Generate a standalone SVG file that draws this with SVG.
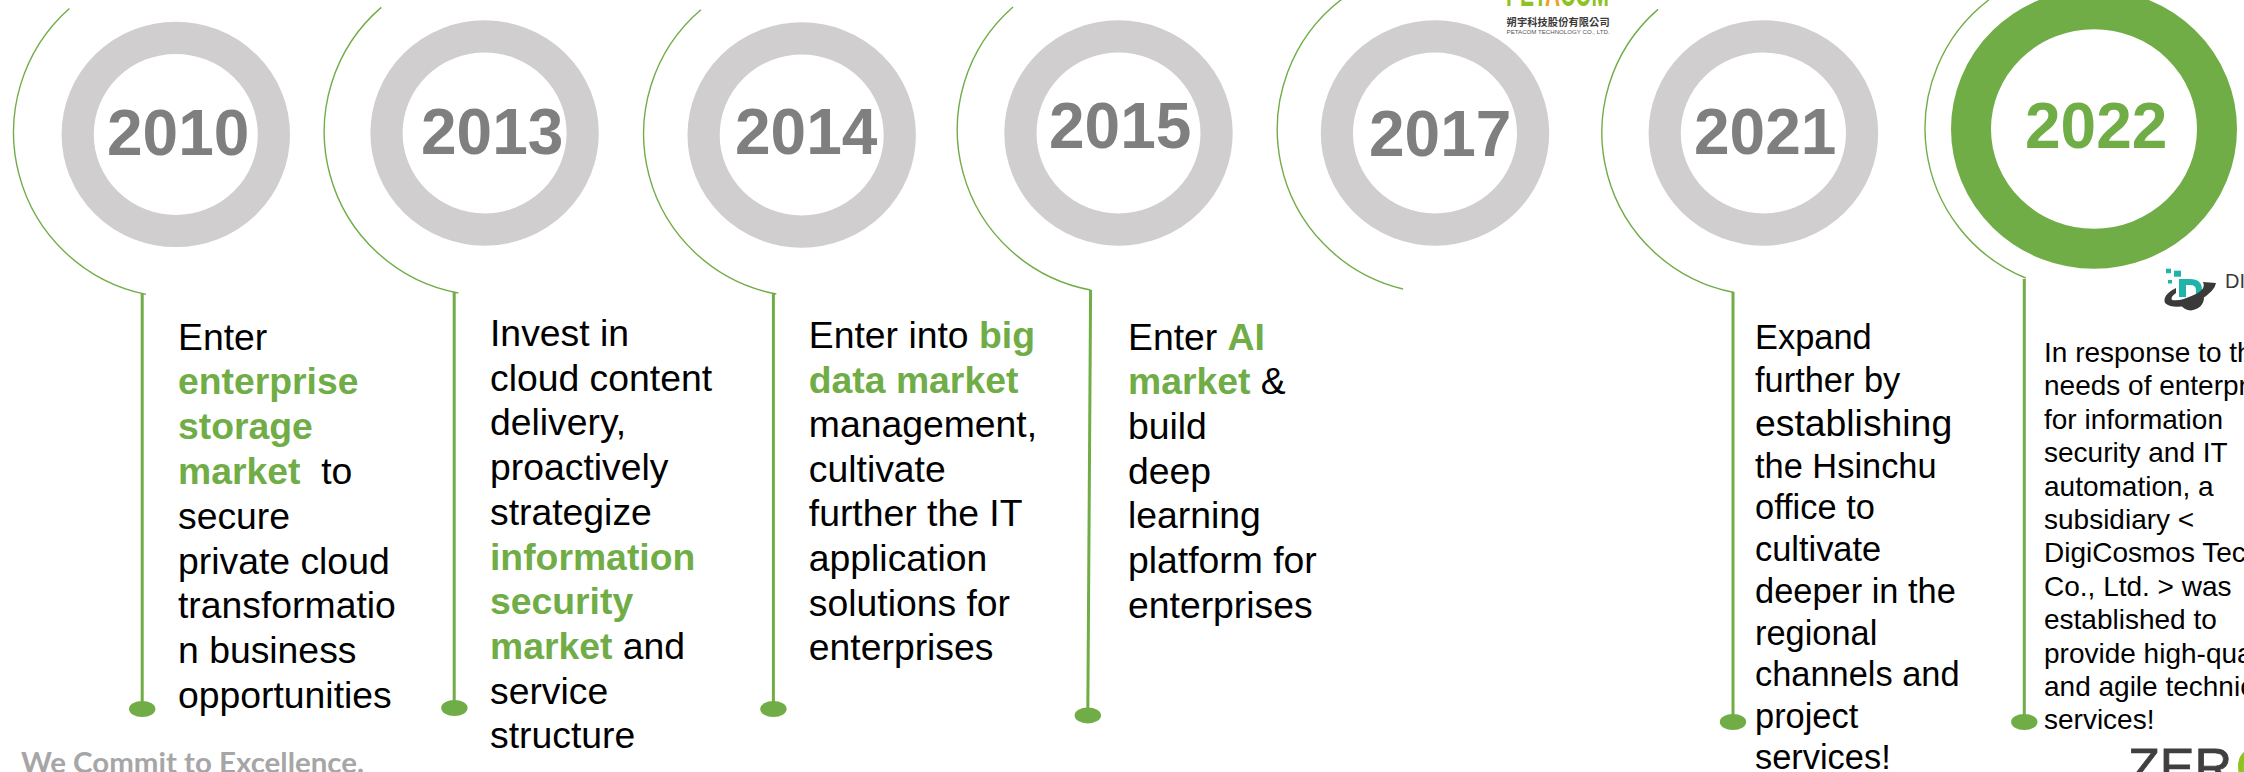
<svg xmlns="http://www.w3.org/2000/svg" width="2244" height="772" viewBox="0 0 2244 772">
<style>
text{font-family:"Liberation Sans",Arial,sans-serif}
.ring{fill:none;stroke:#d0cece;stroke-width:32.2}
.yr{font-size:64px;font-weight:700;fill:#7f7f7f}
.t{font-size:37.33px;fill:#000}
.m{font-size:34.4px;fill:#000}
.s{font-size:28px;fill:#000}
.g{font-weight:700;fill:#70ad47}
.arc{fill:none;stroke:#70ad47;stroke-width:1.4}
.stem{fill:none;stroke:#70ad47;stroke-width:3}
.dot{fill:#70ad47}
</style>
<rect width="2244" height="772" fill="#fff"/>
<g id="connectors">
<path class="arc" d="M69.4 8.4A165.400 165.400 0 0 0 146 294.4"/>
<path class="arc" d="M381.3 7.4A164 164 0 0 0 458.3 293"/>
<path class="arc" d="M700.9 9.8A163 163 0 0 0 776.3 294"/>
<path class="arc" d="M1013 7A163 163 0 0 0 1090.6 290"/>
<path class="arc" d="M1342 -1A164 164 0 0 0 1403 289"/>
<path class="arc" d="M1658 9.4A163 163 0 0 0 1734 292.5"/>
<path class="arc" d="M1988.7 0A161.4 161.4 0 0 0 2025.7 278"/>
<path class="stem" d="M142.2 293V709"/>
<path class="stem" d="M454.2 292V708"/>
<path class="stem" d="M773.4 293V709"/>
<path class="stem" d="M1090.6 290L1087.8 715"/>
<path class="stem" d="M1733 292V722"/>
<path class="stem" d="M2024.3 279V722"/>
<ellipse class="dot" cx="142.2" cy="709" rx="13.2" ry="8"/>
<ellipse class="dot" cx="454.4" cy="708" rx="13.2" ry="8"/>
<ellipse class="dot" cx="773.4" cy="709" rx="13.2" ry="8"/>
<ellipse class="dot" cx="1087.8" cy="715.4" rx="13.2" ry="8"/>
<ellipse class="dot" cx="1733" cy="722" rx="13.2" ry="8"/>
<ellipse class="dot" cx="2024.3" cy="722" rx="13.2" ry="8"/>
</g>
<g id="node-2010">
<ellipse class="ring" cx="175.8" cy="134.4" rx="98.1" ry="96.6"/>
<text class="yr" x="107" y="154.5">2010</text>
<text class="t" xml:space="preserve"><tspan x="178" y="349.6">Enter</tspan><tspan x="178" y="394.4" class="g">enterprise</tspan><tspan x="178" y="439.2" class="g">storage</tspan><tspan x="178" y="484" class="g">market</tspan><tspan>  to</tspan><tspan x="178" y="528.8">secure</tspan><tspan x="178" y="573.6">private cloud</tspan><tspan x="178" y="618.4">transformatio</tspan><tspan x="178" y="663.2">n business</tspan><tspan x="178" y="708">opportunities</tspan></text>
</g>
<g id="node-2013">
<ellipse class="ring" cx="484.6" cy="133" rx="98.1" ry="96.6"/>
<text class="yr" x="421" y="153.6">2013</text>
<text class="t"><tspan x="490" y="346">Invest in</tspan><tspan x="490" y="390.7">cloud content</tspan><tspan x="490" y="435.4">delivery,</tspan><tspan x="490" y="480.1">proactively</tspan><tspan x="490" y="524.8">strategize</tspan><tspan x="490" y="569.5" class="g">information</tspan><tspan x="490" y="614.2" class="g">security</tspan><tspan x="490" y="658.9" class="g">market</tspan><tspan> and</tspan><tspan x="490" y="703.6">service</tspan><tspan x="490" y="748.3">structure</tspan></text>
</g>
<g id="node-2014">
<ellipse class="ring" cx="801.7" cy="135" rx="98.1" ry="96.6"/>
<text class="yr" x="735" y="153.6">2014</text>
<text class="t"><tspan x="808.8" y="348">Enter into </tspan><tspan class="g">big</tspan><tspan x="808.8" y="392.6" class="g">data market</tspan><tspan x="808.8" y="437.2">management,</tspan><tspan x="808.8" y="481.8">cultivate</tspan><tspan x="808.8" y="526.4">further the IT</tspan><tspan x="808.8" y="571">application</tspan><tspan x="808.8" y="615.6">solutions for</tspan><tspan x="808.8" y="660.2">enterprises</tspan></text>
</g>
<g id="node-2015">
<ellipse class="ring" cx="1118.5" cy="133" rx="98.1" ry="96.6"/>
<text class="yr" x="1049" y="148">2015</text>
<text class="t"><tspan x="1128" y="349.6">Enter </tspan><tspan class="g">AI</tspan><tspan x="1128" y="394.3" class="g">market</tspan><tspan> &amp;</tspan><tspan x="1128" y="439">build</tspan><tspan x="1128" y="483.7">deep</tspan><tspan x="1128" y="528.4">learning</tspan><tspan x="1128" y="573.1">platform for</tspan><tspan x="1128" y="617.8">enterprises</tspan></text>
</g>
<g id="node-2017">
<ellipse class="ring" cx="1435" cy="133" rx="98.1" ry="96.6"/>
<text class="yr" x="1369" y="155.6">2017</text>
</g>
<g id="node-2021">
<ellipse class="ring" cx="1763.4" cy="133" rx="98.7" ry="96.6"/>
<text class="yr" x="1694" y="153.6">2021</text>
<text class="m"><tspan x="1755" y="349">Expand</tspan><tspan x="1755" y="392">further by</tspan><tspan x="1755" y="435.7" font-size="37.33">establishing</tspan><tspan x="1755" y="477.6">the Hsinchu</tspan><tspan x="1755" y="519.4">office to</tspan><tspan x="1755" y="561.3">cultivate</tspan><tspan x="1755" y="603.2">deeper in the</tspan><tspan x="1755" y="645">regional</tspan><tspan x="1755" y="686">channels and</tspan><tspan x="1755" y="727.7">project</tspan><tspan x="1755" y="769">services!</tspan></text>
</g>
<g id="node-2022">
<ellipse cx="2094" cy="129" rx="123" ry="119.7" fill="none" stroke="#70ad47" stroke-width="40"/>
<text class="yr" x="2025" y="147.7" style="fill:#70ad47">2022</text>
<text class="s"><tspan x="2044" y="362">In response to th</tspan><tspan x="2044" y="395.4">needs of enterpr</tspan><tspan x="2044" y="428.8">for information</tspan><tspan x="2044" y="462.2">security and IT</tspan><tspan x="2044" y="495.6">automation, a</tspan><tspan x="2044" y="529">subsidiary &lt;</tspan><tspan x="2044" y="562.4">DigiCosmos Tec</tspan><tspan x="2044" y="595.8">Co., Ltd. &gt; was</tspan><tspan x="2044" y="629.2">established to</tspan><tspan x="2044" y="662.6">provide high-qua</tspan><tspan x="2044" y="696">and agile technic</tspan><tspan x="2044" y="729.4">services!</tspan></text>
</g>
<g id="logo-petacom">
<text x="1506" y="6" font-size="36" font-weight="700" fill="#8dc21f" textLength="103" lengthAdjust="spacingAndGlyphs">PET<tspan fill="#f0a020">A</tspan>COM</text>
<text x="1506.6" y="25.5" font-size="10.2" font-weight="700" fill="#3a3a3a" textLength="103" style="font-family:'Noto Sans CJK TC',sans-serif">朔宇科技股份有限公司</text>
<text x="1506.6" y="34" font-size="6" fill="#555" textLength="103" lengthAdjust="spacingAndGlyphs">PETACOM TECHNOLOGY CO., LTD.</text>
</g>
<g id="logo-digicosmos">
<g fill="#1fb3aa">
<rect x="2166" y="268.7" width="5" height="4.5"/>
<rect x="2174" y="270.7" width="7" height="6"/>
<rect x="2168" y="280" width="4" height="3.5"/>
<path d="M2179 279H2190Q2202 279 2202 290V297H2196V290Q2196 285 2190 285H2186V297H2179Z"/>
</g>
<path d="M2165 303Q2162 295 2176 288L2176 293Q2170 297 2172 300Q2180 302 2198 293Q2206 288 2203 282L2216 283Q2215 291 2200 300Q2176 312 2165 303Z" fill="#3a3a3a"/>
<path d="M2180 304Q2194 303 2204 297Q2204 308 2191 310.500Q2184 310 2180 304Z" fill="#3a3a3a"/>
<text x="2225" y="288" font-size="20" fill="#3a3a3a">DIG</text>
</g>
<g id="logo-zero">
<text x="2128" y="785" font-size="52" fill="#3f3f3f" stroke="#3f3f3f" stroke-width="0.8">ZER<tspan fill="#8dc21f" stroke="#8dc21f" dx="4">O</tspan></text>
</g>
<text id="slogan" x="21" y="773" font-size="29" font-weight="700" fill="#a6a6a6" textLength="343" lengthAdjust="spacingAndGlyphs" style="font-family:Lato,'Liberation Sans',sans-serif">We Commit to Excellence.</text>
</svg>
